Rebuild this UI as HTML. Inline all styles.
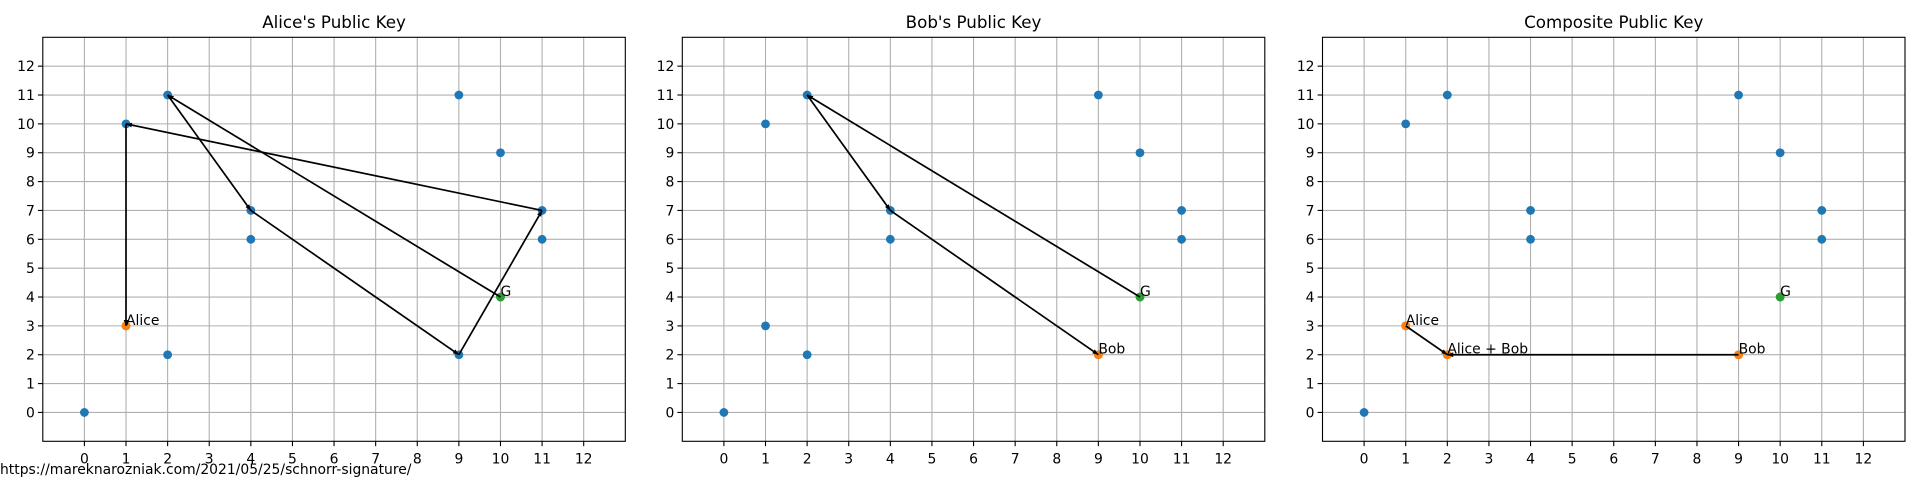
<!DOCTYPE html>
<html><head><meta charset="utf-8"><style>
html,body{margin:0;padding:0;background:#fff;}
svg{display:block;font-family:"DejaVu Sans","Liberation Sans",sans-serif;}
</style></head><body>
<svg id="chart" width="1920" height="480" viewBox="0 0 1920 480" xmlns="http://www.w3.org/2000/svg">
<defs><marker id="ah" viewBox="0 0 10 10" refX="10" refY="5" markerWidth="3.5" markerHeight="3.5" orient="auto-start-reverse"><path d="M0,1 L10,5 L0,9 z" fill="#000"/></marker></defs>
<text x="0" y="474" font-size="13.9" fill="#000">https://mareknarozniak.com/2021/05/25/schnorr-signature/</text>
</svg>
<script>
const curveX=[0,1,1,2,2,4,4,9,9,10,10,11,11];
const curveY=[0,3,10,2,11,6,7,2,11,4,9,6,7];
const titles=["Alice's Public Key","Bob's Public Key","Composite Public Key"];
const ticks=[0,1,2,3,4,5,6,7,8,9,10,11,12];
const genPoint=[10,4];
const path1=[[10,4],[2,11],[4,7],[9,2],[11,7],[1,10],[1,3]];
const path2=[[10,4],[2,11],[4,7],[9,2]];
const path3a=[[1,3],[2,2]];
const path3b=[[9,2],[2,2]];
const keys1=[{p:[1,3],t:"Alice"}];
const keys2=[{p:[9,2],t:"Bob"}];
const keys3=[{p:[1,3],t:"Alice"},{p:[9,2],t:"Bob"},{p:[2,2],t:"Alice + Bob"}];
const panels=[{paths:[path1],keys:keys1},{paths:[path2],keys:keys2},{paths:[path3a,path3b],keys:keys3}];

const svg=document.getElementById('chart');
const NS='http://www.w3.org/2000/svg';
function mk(tag,attrs,parent){const e=document.createElementNS(NS,tag);for(const k in attrs)e.setAttribute(k,attrs[k]);parent.appendChild(e);return e;}
const W=582.5,T=37.3,B=441.3,X0=[42.8,682.3,1322.5];
panels.forEach((pn,i)=>{
  const L=X0[i],R=L+W;
  const sx=v=>L+(v+1)/14*W, sy=v=>B-(v+1)/14*(B-T);
  const g=mk('g',{},svg);
  
  
  const tt=mk('text',{x:(L+R)/2,y:28,'font-size':16.7,'text-anchor':'middle'},g);tt.textContent=titles[i];
  
  
  ticks.forEach(t=>{
    mk('line',{x1:sx(t),x2:sx(t),y1:T,y2:B,stroke:'#b0b0b0','stroke-width':1.1},g);
    mk('line',{x1:L,x2:R,y1:sy(t),y2:sy(t),stroke:'#b0b0b0','stroke-width':1.1},g);
    mk('line',{x1:sx(t),x2:sx(t),y1:B,y2:B+4.9,stroke:'#000','stroke-width':1.1},g);
    mk('line',{x1:L-4.9,x2:L,y1:sy(t),y2:sy(t),stroke:'#000','stroke-width':1.1},g);
    const xl=mk('text',{x:sx(t),y:B+22,'font-size':13.9,'text-anchor':'middle'},g);xl.textContent=t;
    
    
    const yl=mk('text',{x:L-8,y:sy(t)+5,'font-size':13.9,'text-anchor':'end'},g);yl.textContent=t;
    
    
  });
  const fr=mk('rect',{x:L,y:T,width:W,height:B-T,fill:'none',stroke:'#000','stroke-width':1.1},g);
  
  
  curveX.forEach((x,j)=>{const c=mk('circle',{cx:sx(x),cy:sy(curveY[j]),r:4.4,fill:'#1f77b4'},g);
    
    });
  pn.keys.forEach(k=>{const c=mk('circle',{cx:sx(k.p[0]),cy:sy(k.p[1]),r:4.4,fill:'#ff7f0e'},g);
    
    });
  const gc=mk('circle',{cx:sx(genPoint[0]),cy:sy(genPoint[1]),r:4.4,fill:'#2ca02c'},g);
  
  
  pn.paths.forEach(p=>{for(let j=0;j<p.length-1;j++){
    const a=mk('line',{x1:sx(p[j][0]),y1:sy(p[j][1]),x2:sx(p[j+1][0]),y2:sy(p[j+1][1]),stroke:'#000','stroke-width':1.7,'marker-end':'url(#ah)'},g);
    
    }});
  const gl=mk('text',{x:sx(genPoint[0]),y:sy(genPoint[1])-1,'font-size':13.9},g);gl.textContent='G';
  
  
  pn.keys.forEach(k=>{const l=mk('text',{x:sx(k.p[0]),y:sy(k.p[1])-1,'font-size':13.9},g);l.textContent=k.t;
    
    });
});
</script>
</body></html>
